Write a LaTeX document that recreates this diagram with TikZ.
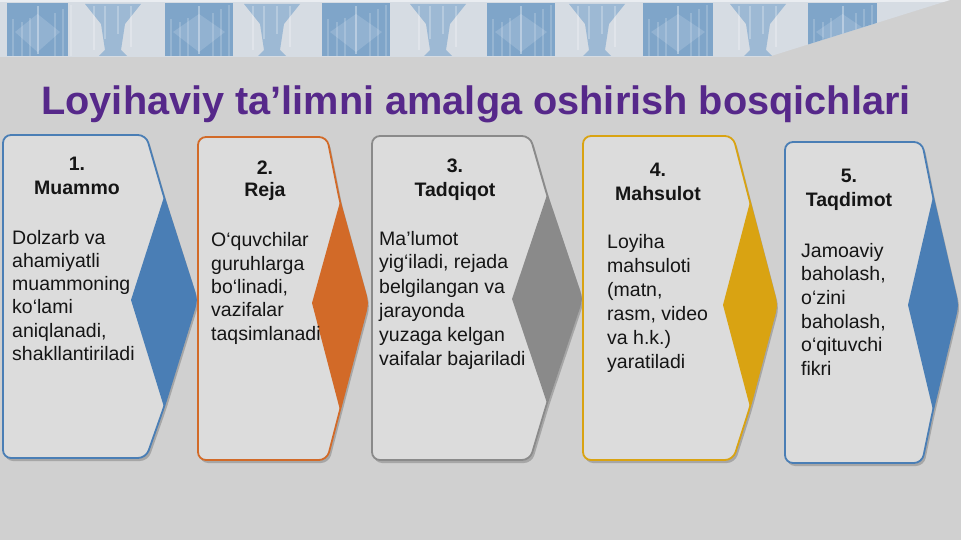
\documentclass[tikz,border=0pt]{standalone}
\usepackage{fontspec}
\setmainfont{Liberation Sans}
\definecolor{bgc}{HTML}{D0D0D0}
\definecolor{cardfill}{HTML}{DCDCDC}
\definecolor{cblue}{HTML}{4A7EB5}
\definecolor{corange}{HTML}{D26A28}
\definecolor{cgray}{HTML}{8A8A8A}
\definecolor{cgold}{HTML}{D9A312}
\definecolor{ctitle}{HTML}{56288A}
\definecolor{bandc}{HTML}{D6DCE3}
\definecolor{sqc}{HTML}{7FA5C9}
\definecolor{gobc}{HTML}{9DB9D4}
\definecolor{txt}{HTML}{151515}
\tikzset{
  title/.style={font=\fontsize{39.7}{46}\selectfont\bfseries, text=ctitle, inner sep=0pt, anchor=base},
  headline/.style={font=\fontsize{19.5}{23}\selectfont\bfseries, text=txt, inner sep=0pt, anchor=base},
  bodyline/.style={font=\fontsize{19.5}{23}\selectfont, text=txt, inner sep=0pt, anchor=base west},
  cardline/.style={line width=1.8pt, rounded corners=8pt, fill=cardfill},
  cardshadow/.style={rounded corners=8pt, fill=black!55, opacity=0.45},
  square/.style={fill=sqc},
  goblet/.style={fill=gobc},
}
\begin{document}
\begin{tikzpicture}[x=1pt,y=-1pt]
\useasboundingbox (0,0) rectangle (961,540);
\fill[bgc] (0,0) rectangle (961,540);
% banner
\begin{scope}
\clip (0,0) -- (950,0) -- (768,57) -- (0,57) -- cycle;
\fill[bandc] (0,0) rectangle (961,57);
\foreach \a/\b in {7/68,165/233,322/390,487/555,643/713,808/877}{
  \fill[square] (\a,3) rectangle (\b,56);
  \fill[white,opacity=0.15] ({(\a+\b)/2},14) -- ({\b-8},32) -- ({(\a+\b)/2},52) -- ({\a+8},32) -- cycle;
  \foreach \s in {5,14,22,47,55,63}
    \fill[white,opacity=0.18] ({\a+\s},{4+mod(\s*7,20)}) rectangle ({\a+\s+1.5},56);
  \fill[white,opacity=0.35] ({(\a+\b)/2-1},6) rectangle ({(\a+\b)/2+1},54);
}
\foreach \c in {113,272,438,597,758}{
  \fill[goblet] (\c-28,4) -- (\c+28,4) -- (\c+12,24) -- (\c+8,50) -- (\c+14,56) -- (\c-14,56) -- (\c-8,50) -- (\c-12,24) -- cycle;
  \foreach \s in {-20,-9,4,17}
    \fill[white,opacity=0.25] ({\c+\s},6) rectangle ({\c+\s+1.5},{30+abs(\s)});
}
\fill[white,opacity=0.5] (0,0) rectangle (961,2);
\end{scope}
% title
\node[title] (title) at (476,115) {Loyihaviy ta’limni amalga oshirish bosqichlari};
% cards
\foreach \n/\L/\T/\B/\R/\P/\M/\D/\Dt/\Db/\col in {
  1/3/135/458/146/197/300/164/197/407/cblue,
  2/198/137/460/327/368/303/340/202/410/corange,
  3/372/136/460/530/582/299/547/195/403/cgray,
  4/583/136/460/733/777/305/750/202/407/cgold,
  5/785/142/463/922/958/305/933/197/410/cblue}{
  \fill[cardshadow] ({\L+2},{\T+3}) -- ({\R+2},{\T+3}) -- ({\D+2},{\Dt+3}) -- ({\P+2},{\M+3}) -- ({\D+2},{\Db+3}) -- ({\R+2},{\B+3}) -- ({\L+2},{\B+3}) -- cycle;
  \draw[cardline, draw=\col] (\L,\T) -- (\R,\T) -- (\D,\Dt) -- (\P,\M) -- (\D,\Db) -- (\R,\B) -- (\L,\B) -- cycle;
  \fill[\col] (\D,\Dt) -- (\P,\M) -- (\D,\Db) -- ({2*\D-\P},\M) -- cycle;
}
% headers
\node[headline] (h1a) at (77,171) {1.};
\node[headline] (h1b) at (77,195) {Muammo};
\node[headline] (h2a) at (265,175) {2.};
\node[headline] (h2b) at (265,197) {Reja};
\node[headline] (h3a) at (455,173) {3.};
\node[headline] (h3b) at (455,197) {Tadqiqot};
\node[headline] (h4a) at (658,177) {4.};
\node[headline] (h4b) at (658,201) {Mahsulot};
\node[headline] (h5a) at (849,183) {5.};
\node[headline] (h5b) at (849,207) {Taqdimot};
% bodies
\foreach \t [count=\i from 0] in {Dolzarb va, ahamiyatli, muammoning, ko‘lami, {aniqlanadi,}, shakllantiriladi}
  \node[bodyline] (b1l\i) at (12,{244+\i*23.3}) {\t};
\foreach \t [count=\i from 0] in {O‘quvchilar, guruhlarga, {bo‘linadi,}, vazifalar, taqsimlanadi}
  \node[bodyline] (b2l\i) at (211,{247+\i*23.3}) {\t};
\foreach \t [count=\i from 0] in {Ma’lumot, {yig‘iladi, rejada}, belgilangan va, jarayonda, yuzaga kelgan, vaifalar bajariladi}
  \node[bodyline] (b3l\i) at (379,{245+\i*24}) {\t};
\foreach \t [count=\i from 0] in {Loyiha, mahsuloti, {(matn,}, {rasm, video}, va h.k.), yaratiladi}
  \node[bodyline] (b4l\i) at (607,{248+\i*24}) {\t};
\foreach \t [count=\i from 0] in {Jamoaviy, {baholash,}, o‘zini, {baholash,}, o‘qituvchi, fikri}
  \node[bodyline] (b5l\i) at (801,{257+\i*23.7}) {\t};
\end{tikzpicture}
\end{document}
